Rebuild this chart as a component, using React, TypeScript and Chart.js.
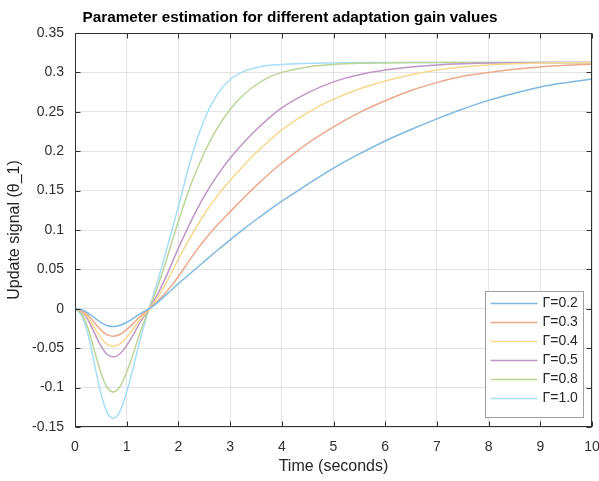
import React, { useEffect, useRef } from "react";
import { Chart, registerables } from "chart.js";

Chart.register(...registerables);

const chartTitle = "Parameter estimation for different adaptation gain values";
const xAxisTitle = "Time (seconds)";
const yAxisTitle = "Update signal (θ_1)";

const xTickValues = [0, 1, 2, 3, 4, 5, 6, 7, 8, 9, 10];
const yTickValues = [-0.15, -0.1, -0.05, 0, 0.05, 0.1, 0.15, 0.2, 0.25, 0.3, 0.35];

const timeValues = [
  0, 0.125, 0.25, 0.375, 0.5, 0.625, 0.75, 0.875, 1, 1.125, 1.25, 1.375,
  1.5, 1.625, 1.75, 1.875, 2, 2.25, 2.5, 2.75, 3, 3.25, 3.5, 3.75, 4,
  4.5, 5, 5.5, 6, 6.5, 7, 7.5, 8, 8.5, 9, 9.5, 10,
];

const seriesLabels = ["Γ=0.2", "Γ=0.3", "Γ=0.4", "Γ=0.5", "Γ=0.8", "Γ=1.0"];
const seriesColors = ["#7fb9e1", "#eca98c", "#f6d88f", "#be97c6", "#bbd597", "#a6def6"];

const gamma02 = [
  0, -0.0013, -0.0052, -0.0113, -0.0173, -0.0214, -0.0225, -0.0209, -0.0171, -0.0121, -0.0067, -0.002,
  0.003, 0.0095, 0.017, 0.0245, 0.032, 0.046, 0.06, 0.074, 0.0875, 0.1005, 0.113, 0.125, 0.1365,
  0.158, 0.1785, 0.1965, 0.213, 0.2275, 0.241, 0.2535, 0.2645, 0.2735, 0.2815, 0.287, 0.2915,
];
const gamma03 = [
  0, -0.0021, -0.008, -0.0174, -0.0267, -0.033, -0.0347, -0.0323, -0.0264, -0.0187, -0.0104, -0.0031,
  0.004, 0.0115, 0.02, 0.03, 0.041, 0.065, 0.087, 0.106, 0.123, 0.14, 0.156, 0.171, 0.185,
  0.21, 0.231, 0.249, 0.264, 0.277, 0.287, 0.295, 0.3, 0.304, 0.307, 0.309, 0.3105,
];
const gamma04 = [
  0, -0.0029, -0.011, -0.024, -0.0366, -0.0451, -0.0475, -0.0442, -0.0361, -0.0257, -0.0143, -0.0043,
  0.0055, 0.017, 0.031, 0.047, 0.063, 0.093, 0.12, 0.143, 0.163, 0.181, 0.198, 0.213, 0.227,
  0.249, 0.266, 0.279, 0.289, 0.297, 0.303, 0.307, 0.3095, 0.311, 0.312, 0.3122, 0.3125,
];
const gamma05 = [
  0, -0.0037, -0.014, -0.0305, -0.047, -0.058, -0.061, -0.0567, -0.0464, -0.033, -0.0183, -0.0055,
  0.007, 0.022, 0.039, 0.058, 0.077, 0.112, 0.143, 0.169, 0.191, 0.21, 0.227, 0.242, 0.255,
  0.274, 0.288, 0.297, 0.303, 0.307, 0.3095, 0.311, 0.312, 0.3122, 0.3125, 0.3125, 0.3125,
];
const gamma08 = [
  0, -0.0063, -0.0243, -0.0528, -0.0812, -0.1002, -0.1055, -0.0981, -0.0802, -0.057, -0.0317, -0.0095,
  0.011, 0.033, 0.058, 0.085, 0.111, 0.159, 0.198, 0.229, 0.253, 0.271, 0.284, 0.294, 0.3,
  0.307, 0.31, 0.3115, 0.312, 0.3125, 0.3125, 0.3125, 0.3125, 0.3125, 0.3125, 0.3125, 0.3125,
];
const gamma10 = [
  0, -0.0083, -0.032, -0.0695, -0.107, -0.132, -0.139, -0.1293, -0.1056, -0.075, -0.0417, -0.0125,
  0.014, 0.041, 0.07, 0.1, 0.13, 0.192, 0.24, 0.272, 0.291, 0.301, 0.306, 0.309, 0.31,
  0.3115, 0.312, 0.3125, 0.3125, 0.3125, 0.3125, 0.3125, 0.3125, 0.3125, 0.3125, 0.3125, 0.3125,
];

const seriesValues = [gamma02, gamma03, gamma04, gamma05, gamma08, gamma10];

const FONT = "'Liberation Sans', Arial, sans-serif";

const framePlugin = {
  id: "frameAndLegend",
  afterDatasetsDraw(chart: any) {
    const { ctx, chartArea: a, scales } = chart;
    const xs = scales.x;
    const ys = scales.y;
    ctx.save();
    ctx.strokeStyle = "#303030";
    ctx.lineWidth = 1;
    ctx.beginPath();
    const L = Math.round(a.left) + 0.5;
    const R = Math.round(a.right) - 0.5;
    const T = Math.round(a.top) + 0.5;
    const B = Math.round(a.bottom) - 0.5;
    for (const v of xTickValues) {
      const px = Math.round(xs.getPixelForValue(v)) + 0.5;
      ctx.moveTo(px, B);
      ctx.lineTo(px, B - 5);
      ctx.moveTo(px, T);
      ctx.lineTo(px, T + 5);
    }
    for (const v of yTickValues) {
      const py = Math.round(ys.getPixelForValue(v)) + 0.5;
      ctx.moveTo(L, py);
      ctx.lineTo(L + 5, py);
      ctx.moveTo(R, py);
      ctx.lineTo(R - 5, py);
    }
    ctx.stroke();
    ctx.strokeRect(L, T, R - L, B - T);
    ctx.restore();
  },
  afterDraw(chart: any) {
    const { ctx, chartArea: a } = chart;
    ctx.save();
    // title
    ctx.font = `bold 15.3px ${FONT}`;
    ctx.fillStyle = "#000000";
    ctx.textAlign = "center";
    ctx.textBaseline = "middle";
    ctx.fillText(chartTitle, 290, 18);

    // legend
    const boxW = 98;
    const rowH = 19;
    const n = chart.data.datasets.length;
    const boxH = n * rowH + 12;
    const bx = Math.round(a.right - 9 - boxW) + 0.5;
    const by = Math.round(a.bottom - 10 - boxH) + 0.5;
    ctx.fillStyle = "#ffffff";
    ctx.fillRect(bx, by, boxW, boxH);
    ctx.strokeStyle = "#a0a0a0";
    ctx.lineWidth = 1;
    ctx.strokeRect(bx, by, boxW, boxH);
    ctx.font = `14px ${FONT}`;
    ctx.textAlign = "left";
    ctx.textBaseline = "middle";
    chart.data.datasets.forEach((ds: any, i: number) => {
      const cy = by + 12 + i * rowH;
      ctx.strokeStyle = ds.borderColor;
      ctx.lineWidth = 1.5;
      ctx.beginPath();
      ctx.moveTo(bx + 5, cy);
      ctx.lineTo(bx + 52, cy);
      ctx.stroke();
      ctx.fillStyle = "#262626";
      ctx.fillText(ds.label, bx + 57, cy);
    });
    ctx.restore();
  },
};

export default function App() {
  const canvasRef = useRef<HTMLCanvasElement | null>(null);

  useEffect(() => {
    const canvas = canvasRef.current;
    if (!canvas) return;
    const datasets = seriesValues.map((vals, i) => ({
      label: seriesLabels[i],
      data: timeValues.map((t, j) => ({ x: t, y: vals[j] })),
      borderColor: seriesColors[i],
      backgroundColor: seriesColors[i],
      borderWidth: 1.5,
      pointRadius: 0,
      fill: false,
      cubicInterpolationMode: "monotone" as const,
    }));

    const chart = new Chart(canvas, {
      type: "line",
      data: { datasets },
      options: {
        animation: false,
        responsive: false,
        devicePixelRatio: 1,
        layout: { padding: { top: 33, right: 7, left: 0, bottom: 0 } },
        plugins: {
          legend: { display: false },
          title: { display: false },
          tooltip: { enabled: false },
        },
        scales: {
          x: {
            type: "linear",
            min: 0,
            max: 10,
            afterBuildTicks: (axis: any) => {
              axis.ticks = xTickValues.map((v) => ({ value: v }));
            },
            afterFit: (scale: any) => {
              scale.height = 54;
              scale.paddingLeft = 0;
              scale.paddingRight = 0;
            },
            grid: { color: "#e3e3e3", drawTicks: false, lineWidth: 1 },
            border: { display: false },
            ticks: {
              padding: 12,
              color: "#303030",
              font: { family: FONT, size: 14 },
              maxRotation: 0,
              autoSkip: false,
              callback: (v: any) => String(v),
            },
            title: {
              display: true,
              text: xAxisTitle,
              color: "#262626",
              font: { family: FONT, size: 16 },
              padding: { top: 0, bottom: 5 },
            },
          },
          y: {
            type: "linear",
            min: -0.15,
            max: 0.35,
            afterBuildTicks: (axis: any) => {
              axis.ticks = yTickValues.map((v) => ({ value: v }));
            },
            afterFit: (scale: any) => {
              scale.width = 75;
              scale.paddingTop = 0;
              scale.paddingBottom = 0;
            },
            grid: { color: "#e3e3e3", drawTicks: false, lineWidth: 1 },
            border: { display: false },
            ticks: {
              padding: 11,
              color: "#303030",
              font: { family: FONT, size: 14 },
              autoSkip: false,
              callback: (v: any) => String(Number(Number(v).toFixed(2))),
            },
            title: {
              display: true,
              text: yAxisTitle,
              color: "#262626",
              font: { family: FONT, size: 16 },
              padding: { top: 5, bottom: 0 },
            },
          },
        },
      },
      plugins: [framePlugin],
    });
    return () => chart.destroy();
  }, []);

  return (
    <div style={{ position: "absolute", left: 0, top: 0, width: 599, height: 481, background: "#ffffff", overflow: "hidden" }}>
      <canvas ref={canvasRef} width={599} height={481} style={{ display: "block" }} />
    </div>
  );
}
